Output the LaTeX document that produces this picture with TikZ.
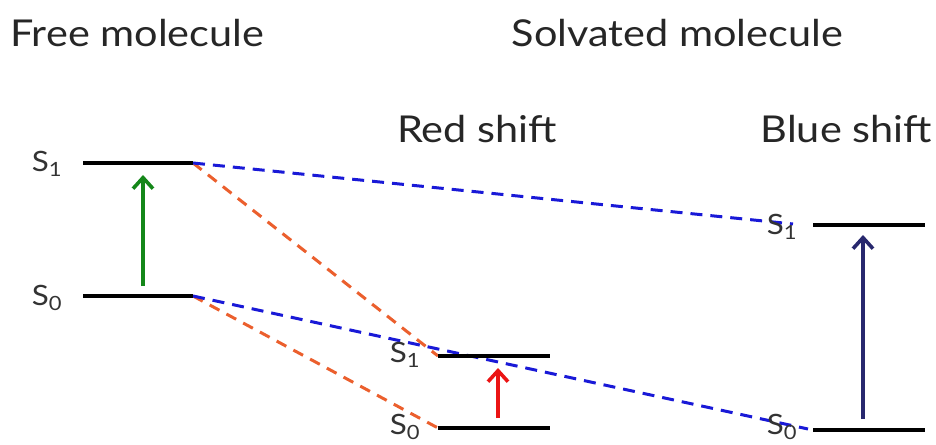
\documentclass[tikz,border=0pt]{standalone}
\usepackage{fontspec}
\setmainfont{Lato}[FakeStretch=1.12]
\usetikzlibrary{arrows.meta}
\definecolor{grn}{RGB}{20,135,25}
\definecolor{rd}{RGB}{235,20,20}
\definecolor{nv}{RGB}{40,40,110}
\definecolor{org}{RGB}{235,95,45}
\definecolor{blu}{RGB}{25,25,215}
\begin{document}
\begin{tikzpicture}[x=1pt,y=-1pt,
  level/.style={line width=3.8pt,black},
  title/.style={font=\fontsize{37}{40}\selectfont,text=black!85,inner sep=0pt},
  slabel/.style={font=\fontsize{28}{30}\selectfont,text=black!80,inner sep=0pt},
  bdash/.style={blu,line width=3pt,dash pattern=on 12pt off 8pt},
  odash/.style={org,line width=3pt,dash pattern=on 11pt off 8pt},
  trans/.style={line width=3.6pt,-{Straight Barb[length=11pt,width=20pt,line width=3.6pt]}}]
\useasboundingbox (0,0) rectangle (936,444);
% titles
\node[title,anchor=base west] (tfree) at (10,46) {Free molecule};
\node[title,anchor=base east] (tsolv) at (843,46) {Solvated molecule};
\node[title,anchor=base east] (tred) at (557,142) {Red shift};
\node[title,anchor=base east] (tblue) at (932,142) {Blue shift};
% level endpoints
\coordinate (f1l) at (83,163); \coordinate (f1r) at (193,163);
\coordinate (f0l) at (83,296); \coordinate (f0r) at (193,296);
\coordinate (r1l) at (438,356); \coordinate (r1r) at (550,356);
\coordinate (r0l) at (438,428); \coordinate (r0r) at (550,428);
\coordinate (b1l) at (813,225); \coordinate (b1r) at (925,225);
\coordinate (b0l) at (813,430); \coordinate (b0r) at (925,430);
\coordinate (b1e) at (793,224); \coordinate (b0e) at (808,429);
% dashed correlations
\draw[odash] (f1r) -- (r1l);
\draw[odash] (f0r) -- (r0l);
\draw[bdash] (f1r) -- (b1e);
\draw[bdash] (f0r) -- (b0e);
% levels
\draw[level] (f1l) -- (f1r);
\draw[level] (f0l) -- (f0r);
\draw[level] (r1l) -- (r1r);
\draw[level] (r0l) -- (r0r);
\draw[level] (b1l) -- (b1r);
\draw[level] (b0l) -- (b0r);
% labels
\node[slabel] (lf1) at (47,164) {S\textsubscript{1}};
\node[slabel] (lf0) at (47,298) {S\textsubscript{0}};
\node[slabel] (lr1) at (405,355) {S\textsubscript{1}};
\node[slabel] (lr0) at (405,427) {S\textsubscript{0}};
\node[slabel] (lb1) at (782,227) {S\textsubscript{1}};
\node[slabel] (lb0) at (782,427) {S\textsubscript{0}};
% transitions
\coordinate (g0) at (143,286); \coordinate (g1) at (143,175);
\coordinate (rr0) at (498,418); \coordinate (rr1) at (498,368);
\coordinate (n0) at (863,419); \coordinate (n1) at (863,235);
\draw[trans,grn] (g0) -- (g1);
\draw[trans,rd] (rr0) -- (rr1);
\draw[trans,nv] (n0) -- (n1);
\end{tikzpicture}
\end{document}
